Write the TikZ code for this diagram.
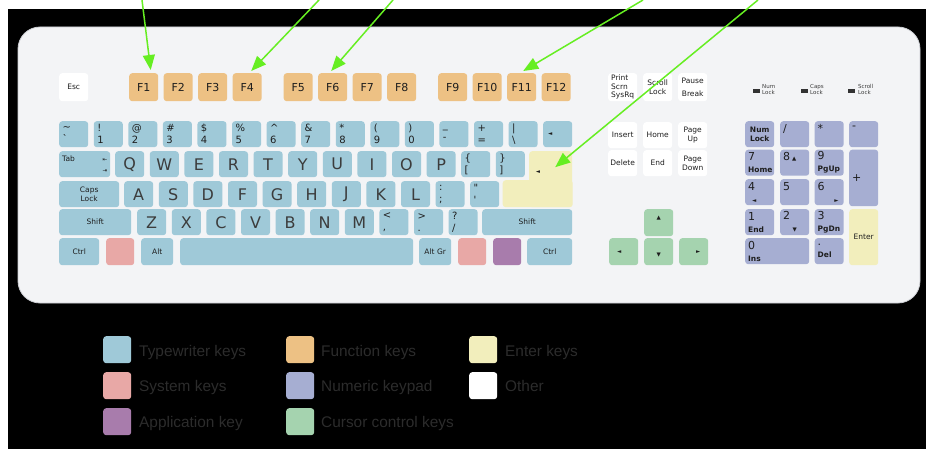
\documentclass[tikz,border=0pt]{standalone}
\usepackage{fontspec}
\setmainfont{DejaVu Sans}
\newfontfamily\legendfont{Liberation Sans}
\usetikzlibrary{arrows.meta}

\definecolor{typewriter}{RGB}{159,201,216}
\definecolor{function}{RGB}{237,193,132}
\definecolor{enterkey}{RGB}{242,238,188}
\definecolor{system}{RGB}{232,168,166}
\definecolor{numpad}{RGB}{166,174,210}
\definecolor{application}{RGB}{168,124,172}
\definecolor{cursor}{RGB}{165,211,175}
\definecolor{kbbody}{RGB}{243,244,246}
\definecolor{kbedge}{RGB}{205,207,212}
\definecolor{arrowgreen}{RGB}{102,238,34}
\definecolor{legendgray}{RGB}{44,44,44}
\definecolor{keytext}{RGB}{30,30,30}
\definecolor{lettertext}{RGB}{60,60,60}
\definecolor{ledgray}{RGB}{50,50,50}

\newcommand{\kbtiny}{\fontsize{5.5}{6.5}\selectfont}
\newcommand{\kbsmall}{\fontsize{7.5}{8.5}\selectfont}
\newcommand{\kbsym}{\fontsize{10}{12}\selectfont}
\newcommand{\kbnum}{\fontsize{11}{12}\selectfont}
\newcommand{\kbfn}{\fontsize{11}{13}\selectfont}
\newcommand{\kbbig}{\fontsize{16}{18}\selectfont}

\begin{document}
\begin{tikzpicture}[x=1pt,y=-1pt,
	kbkey/.style={anchor=north west,rounded corners=3pt,inner sep=0pt,minimum width=29pt,minimum height=26pt,text=keytext,font=\kbsmall,align=center},
	tw/.style={kbkey,fill=typewriter},
	fk/.style={kbkey,fill=function,font=\kbfn,minimum height=28pt},
	ok/.style={kbkey,fill=white},
	nk/.style={kbkey,fill=numpad},
	ck/.style={kbkey,fill=cursor,minimum height=27pt,font=\kbtiny},
	sym/.style={font=\kbsym,align=left,text width=22pt},
	numtxt/.style={font=\kbnum,align=left,text width=23pt},
	letter/.style={font=\kbbig,text=lettertext},
	led/.style={anchor=north west,fill=ledgray,minimum width=7pt,minimum height=3.5pt,inner sep=0pt},
	ledtxt/.style={anchor=west,font=\kbtiny,text=lettertext,align=left,inner sep=0pt},
	swatch/.style={anchor=north west,rounded corners=3pt,minimum width=28pt,minimum height=27pt,inner sep=0pt},
	legendtxt/.style={anchor=base west,inner sep=0pt,text=legendgray,font=\legendfont\fontsize{15.4}{17}\selectfont},
	pointer/.style={draw=arrowgreen,line width=1.5pt,-{Triangle[length=15pt,width=12pt]}}]
	\useasboundingbox (0,0) rectangle (926,449);
	\fill[black] (8,9) rectangle (926,449);
	\fill[kbbody,draw=kbedge,line width=0.8pt,rounded corners=22pt] (18,27) rectangle (920,303);

	% function row
	\node[ok,minimum height=28pt] (esc) at (59,73) {Esc};
	\foreach \x [count=\i] in {129,163.5,198,232.5,283.5,318,352.5,387,438,472.5,507,541.5}
		\node[fk] (f\i) at (\x,73) {F\i};
	\node[ok,minimum height=28pt,align=left] (print) at (608,73) {Print\\Scrn\\SysRq};
	\node[ok,minimum height=28pt] (scroll) at (643,73) {Scroll\\Lock};
	\node[ok,minimum height=28pt] (pause) at (678,73) {Pause\\[5pt]Break};

	% lock lights
	\node[led] (numled) at (753,89) {};
	\node[ledtxt] (numledtxt) at (762,89.5) {Num\\Lock};
	\node[led] (capsled) at (801,89) {};
	\node[ledtxt] (capsledtxt) at (810,89.5) {Caps\\Lock};
	\node[led] (scrollled) at (848,89) {};
	\node[ledtxt] (scrollledtxt) at (858,89.5) {Scroll\\Lock};

	% number row
	\foreach \kup/\kdn [count=\i from 0] in {\textasciitilde/\textasciigrave,!/1,@/2,\#/3,\$/4,\%/5,\textasciicircum/6,\&/7,*/8,{(}/9,{)}/0,\_/-,+/=,\textbar/\textbackslash}
		\node[tw,sym] (n\i) at (59+34.57*\i,121) {\kup\\\kdn};
	\node[tw,font=\kbtiny] (bksp) at (543,121) {◄\hspace{15pt}};

	% tab row
	\node[tw,minimum width=51pt,text width=45pt,align=left] (tab) at (59,151) {Tab\hfill{\kbtiny ⇤}\\[2pt]\hfill{\kbtiny ⇥}};
	\foreach \kc [count=\i from 0] in {Q,W,E,R,T,Y,U,I,O,P}
		\node[tw,letter] (\kc) at (115+34.6*\i,151) {\kc};
	\node[tw,sym] (lbrack) at (461,151) {\{\\{[}};
	\node[tw,sym] (rbrack) at (495.6,151) {\}\\{]}};
	\node[kbkey,fill=enterkey,minimum width=70pt,minimum height=27pt] (ent2) at (502.5,180) {};
	\node[kbkey,fill=enterkey,minimum width=43pt,minimum height=56pt] (ent1) at (529,151) {};
	\node[font=\kbtiny,text=keytext,inner sep=0pt] (entsym) at (538,172) {◄};

	% caps row
	\node[tw,minimum width=60pt] (caps) at (59,181) {Caps\\Lock};
	\foreach \kc [count=\i from 0] in {A,S,D,F,G,H,J,K,L}
		\node[tw,letter] (\kc) at (124+34.6*\i,181) {\kc};
	\node[tw,sym] (semi) at (435.4,181) {:\\;};
	\node[tw,sym] (quote) at (470,181) {\textquotedbl\\\textquotesingle};

	% shift row
	\node[tw,minimum width=72pt] (lshift) at (59,209) {Shift};
	\foreach \kc [count=\i from 0] in {Z,X,C,V,B,N,M}
		\node[tw,letter] (\kc) at (137+34.6*\i,209) {\kc};
	\node[tw,sym] (comma) at (379.2,209) {\textless\\,};
	\node[tw,sym] (period) at (413.8,209) {\textgreater\\.};
	\node[tw,sym] (slash) at (448.4,209) {?\\/};
	\node[tw,minimum width=90pt] (rshift) at (482,209) {Shift};

	% bottom row
	\node[tw,minimum width=40pt,minimum height=27pt] (lctrl) at (59,238) {Ctrl};
	\node[kbkey,fill=system,minimum width=28pt,minimum height=27pt] (lwin) at (106,238) {};
	\node[tw,minimum width=32pt,minimum height=27pt] (lalt) at (141,238) {Alt};
	\node[tw,minimum width=233pt,minimum height=27pt] (space) at (180,238) {};
	\node[tw,minimum width=32pt,minimum height=27pt] (altgr) at (419,238) {Alt Gr};
	\node[kbkey,fill=system,minimum width=28pt,minimum height=27pt] (rwin) at (458,238) {};
	\node[kbkey,fill=application,minimum width=28pt,minimum height=27pt] (menu) at (493,238) {};
	\node[tw,minimum width=45pt,minimum height=27pt] (rctrl) at (527,238) {Ctrl};

	% editing keys
	\node[ok] (insert) at (608,122) {Insert};
	\node[ok] (home) at (643,122) {Home};
	\node[ok] (pgup) at (678,122) {Page\\Up};
	\node[ok] (delete) at (608,150) {Delete};
	\node[ok] (end) at (643,150) {End};
	\node[ok] (pgdn) at (678,150) {Page\\Down};

	% cursor keys
	\node[ck] (up) at (644,209) {▲\\[4pt]\mbox{}};
	\node[ck] (left) at (609,238) {◄\hspace{9pt}};
	\node[ck] (down) at (644,238) {\mbox{}\\[4pt]▼};
	\node[ck] (right) at (679,238) {\hspace{9pt}►};

	% numeric keypad
	\node[nk,font=\kbsmall\bfseries] (numlock) at (745,121) {Num\\Lock};
	\node[nk,numtxt] (npslash) at (780,121) {/\\\mbox{}};
	\node[nk,numtxt] (npstar) at (814.5,121) {*\\\mbox{}};
	\node[nk,numtxt] (npminus) at (849,121) {-\\\mbox{}};
	\node[nk,numtxt] (np7) at (745,149.5) {7\\{\kbsmall\bfseries Home}};
	\node[nk,numtxt] (np8) at (780,149.5) {8\,{\kbtiny▲}\\\mbox{}};
	\node[nk,numtxt] (np9) at (814.5,149.5) {9\\{\kbsmall\bfseries PgUp}};
	\node[nk,numtxt,minimum height=56.5pt] (npplus) at (849,149.5) {+};
	\node[nk,numtxt] (np4) at (745,179) {4\\\hspace*{4pt}{\kbtiny◄}};
	\node[nk,numtxt] (np5) at (780,179) {5\\\mbox{}};
	\node[nk,numtxt] (np6) at (814.5,179) {6\\\hfill{\kbtiny►}\hspace*{2pt}};
	\node[nk,numtxt] (np1) at (745,209) {1\\{\kbsmall\bfseries End}};
	\node[nk,numtxt] (np2) at (780,209) {2\\\hfill{\kbtiny▼}\hfill\mbox{}};
	\node[nk,numtxt] (np3) at (814.5,209) {3\\{\kbsmall\bfseries PgDn}};
	\node[kbkey,fill=enterkey,minimum height=56pt] (npenter) at (849,209) {Enter};
	\node[nk,numtxt,minimum width=64pt,text width=58pt] (np0) at (745,238) {0\\{\kbsmall\bfseries Ins}};
	\node[nk,numtxt] (npdot) at (814.5,238) {.\\{\kbsmall\bfseries Del}};

	% legend
	\node[swatch,fill=typewriter] (sw1) at (103,336) {};
	\node[legendtxt] (lg1) at (139,356) {Typewriter keys};
	\node[swatch,fill=system] (sw2) at (103,372) {};
	\node[legendtxt] (lg2) at (139,391) {System keys};
	\node[swatch,fill=application] (sw3) at (103,408) {};
	\node[legendtxt] (lg3) at (139,427) {Application key};
	\node[swatch,fill=function] (sw4) at (286,336) {};
	\node[legendtxt] (lg4) at (321,356) {Function keys};
	\node[swatch,fill=numpad] (sw5) at (286,372) {};
	\node[legendtxt] (lg5) at (321,391) {Numeric keypad};
	\node[swatch,fill=cursor] (sw6) at (286,408) {};
	\node[legendtxt] (lg6) at (321,427) {Cursor control keys};
	\node[swatch,fill=enterkey] (sw7) at (469,336) {};
	\node[legendtxt] (lg7) at (505,356) {Enter keys};
	\node[swatch,fill=white] (sw8) at (469,372) {};
	\node[legendtxt] (lg8) at (505,391) {Other};

	% pointers
	\coordinate (p1) at (142,0);
	\coordinate (p2) at (319,0);
	\coordinate (p3) at (393,0);
	\coordinate (p4) at (643,0);
	\coordinate (p5) at (758,0);
	\draw[pointer] (p1) -- ([xshift=7pt,yshift=3pt]f1.north);
	\draw[pointer] (p2) -- ([xshift=4pt,yshift=2pt]f4.north);
	\draw[pointer] (p3) -- ([xshift=-1.5pt,yshift=2pt]f6.north);
	\draw[pointer] (p4) -- ([xshift=1.5pt,yshift=2pt]f11.north);
	\draw[pointer] (p5) -- ([xshift=4.5pt,yshift=12pt]ent1.center);
\end{tikzpicture}
\end{document}
